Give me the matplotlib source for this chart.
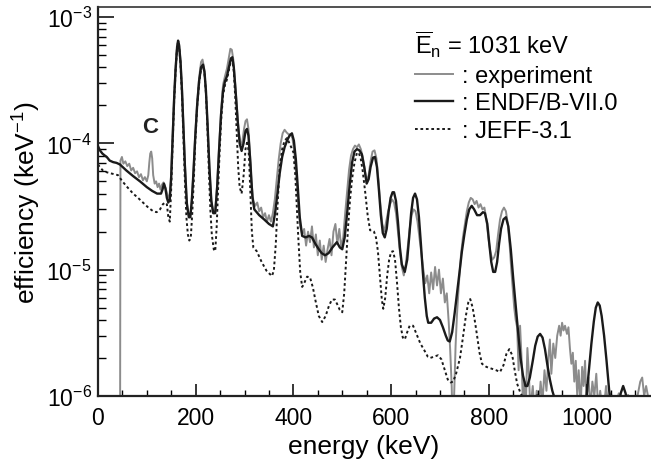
import matplotlib
matplotlib.use("Agg")
import matplotlib.pyplot as plt
from matplotlib.ticker import FixedLocator, MultipleLocator, LogLocator, NullFormatter

plt.rcParams['font.family'] = ['Liberation Sans', 'DejaVu Sans']
plt.rcParams['mathtext.fontset'] = 'custom'
plt.rcParams['mathtext.rm'] = 'Liberation Sans'
plt.rcParams['mathtext.it'] = 'Liberation Sans:italic'

# ---- data (energy in keV, efficiency in keV^-1) ----
exp_e = [45, 46, 49, 52, 56, 60, 64, 68, 72, 76, 80, 84, 88, 92, 96, 100, 103, 105, 107, 109,
         111, 113, 116, 119, 122, 125, 128, 131, 134, 137, 140, 143, 146,
         149, 152, 155, 158, 161, 164, 166, 169, 172, 175, 178, 181, 184, 187, 190,
         193, 196, 199, 203, 207, 211, 214, 217, 220, 223, 226, 229, 232, 236, 240,
         244, 248, 252, 256, 260, 264, 268, 271, 274, 277, 280, 284, 288, 292,
         295, 299, 302, 305, 308, 311, 314, 318, 322, 326, 330, 334, 338, 342, 346,
         350, 354, 358, 362, 366, 370, 374, 378, 382, 386, 390, 394, 398, 402, 406,
         410, 414, 418, 422, 426, 430, 434, 438, 442, 446, 450, 454, 458, 462, 466,
         470, 474, 478, 482, 486, 490, 494, 498, 502, 506, 510, 514, 518, 522, 526,
         530, 534, 538, 542, 546, 550, 554, 558, 562, 566, 570, 574, 578, 582, 586,
         590, 594, 598, 602, 606, 610, 614, 618, 622, 626, 630, 634, 638, 642, 646,
         650, 654, 658, 662, 666, 670, 674, 678, 682, 686, 690, 694, 698, 702, 706,
         710, 714, 718, 721, 724, 726, 729, 732, 735, 739, 743, 747, 751, 755, 759,
         763, 767, 771, 775, 779, 783, 787, 791, 795, 799, 803, 807, 811, 815, 819,
         823, 827, 831, 835, 839, 843, 846, 849, 852, 855, 858, 861, 864, 867, 870,
         873, 876, 879, 882, 885, 890, 894, 898, 902, 906, 910, 914, 918, 922, 925,
         928, 932, 936, 940, 944, 947, 950, 953, 956, 960, 963, 966, 969, 972, 975,
         978, 981, 984, 988, 991, 994, 997, 1000, 1004, 1008, 1012, 1016, 1020, 1024,
         1028, 1034, 1040, 1045, 1050, 1058, 1066, 1075, 1085, 1095, 1105, 1110, 1114,
         1118, 1122, 1128]
exp_v = [1e-7, 7.3e-5, 7.8e-5, 6.9e-5, 7.2e-5, 6.6e-5, 6.9e-5, 6.1e-5, 6.4e-5, 5.8e-5, 6.0e-5,
         5.4e-5, 5.7e-5, 5.1e-5, 5.4e-5, 5.0e-5, 5.6e-5, 7.0e-5, 8.3e-5, 8.6e-5,
         7.6e-5, 5.6e-5, 4.8e-5, 5.0e-5, 4.5e-5, 4.8e-5, 4.3e-5, 4.7e-5, 4.9e-5, 4.6e-5,
         4.2e-5, 3.8e-5, 3.7e-5,
         5.0e-5, 1.0e-4, 2.0e-4, 3.6e-4, 5.4e-4, 6.3e-4, 6.0e-4, 4.5e-4, 2.7e-4, 1.35e-4,
         7e-5, 3.8e-5, 2.9e-5, 2.6e-5, 2.8e-5,
         4.0e-5, 6.5e-5, 1.15e-4, 2.1e-4, 3.3e-4, 4.4e-4, 4.6e-4, 4.0e-4, 2.9e-4, 1.8e-4,
         1.0e-4, 5.5e-5, 3.5e-5, 2.8e-5, 2.9e-5,
         4.8e-5, 9.5e-5, 1.8e-4, 2.9e-4, 3.4e-4, 3.9e-4, 4.8e-4, 5.6e-4, 5.5e-4, 4.6e-4,
         3.3e-4, 2.0e-4, 1.25e-4, 9.8e-5,
         1.0e-4, 1.3e-4, 1.5e-4, 1.55e-4, 1.3e-4, 8.5e-5, 5e-5, 3.5e-5, 3.2e-5, 3.4e-5,
         2.9e-5, 3.1e-5, 2.6e-5, 2.8e-5, 2.4e-5,
         2.7e-5, 2.4e-5, 2.8e-5, 3.6e-5, 5.2e-5, 7.5e-5, 1.0e-4, 1.2e-4, 1.28e-4, 1.22e-4,
         1.18e-4, 1.18e-4, 1.1e-4, 8.5e-5, 5.5e-5,
         3.3e-5, 2.2e-5, 1.9e-5, 2.1e-5, 1.55e-5, 2.0e-5, 1.65e-5, 2.2e-5, 1.5e-5, 1.9e-5,
         1.3e-5, 1.7e-5, 1.2e-5, 1.55e-5, 1.15e-5,
         1.45e-5, 1.75e-5, 1.3e-5, 2.0e-5, 2.3e-5, 1.6e-5, 2.1e-5, 1.5e-5, 1.8e-5, 2.8e-5,
         4.2e-5, 6.2e-5, 8.0e-5, 9.0e-5, 9.6e-5,
         9.3e-5, 9.8e-5, 9.0e-5, 7.8e-5, 6.2e-5, 5.0e-5, 5.6e-5, 7.2e-5, 8.6e-5, 8.8e-5,
         7.6e-5, 5.2e-5, 3.3e-5, 2.3e-5, 2.0e-5,
         2.4e-5, 2.9e-5, 3.3e-5, 3.6e-5, 3.4e-5, 2.8e-5, 2.0e-5, 1.4e-5, 1.05e-5, 9e-6,
         1.1e-5, 1.5e-5, 2.1e-5, 2.7e-5, 3.0e-5,
         2.9e-5, 2.4e-5, 1.8e-5, 1.35e-5, 1.0e-5, 7.8e-6, 9e-6, 6.5e-6, 9.5e-6, 7e-6,
         1.05e-5, 7.5e-6, 1.0e-5, 6.5e-6, 8.5e-6,
         5.5e-6, 6.5e-6, 3.8e-6, 2.3e-6, 1.2e-6, 6e-7, 1.0e-6, 2.5e-6, 4.5e-6, 8e-6,
         1.3e-5, 1.8e-5, 2.3e-5, 2.9e-5, 3.4e-5,
         3.7e-5, 3.6e-5, 3.3e-5, 3.5e-5, 3.1e-5, 3.3e-5, 3.0e-5, 3.1e-5, 2.5e-5, 1.8e-5,
         1.4e-5, 1.2e-5, 1.25e-5, 1.4e-5, 1.9e-5,
         2.5e-5, 2.9e-5, 3.1e-5, 2.9e-5, 2.3e-5, 1.5e-5, 1.0e-5, 7e-6, 5e-6, 4.0e-6,
         3.5e-6, 1.6e-6, 3.6e-6, 2.0e-6, 8e-7,
         1.3e-6, 9e-7, 2.4e-6, 1.5e-6, 8e-7, 1.2e-6, 7e-7, 1.1e-6, 8e-7, 1.3e-6,
         9e-7, 1.6e-6, 1.1e-6, 2.0e-6, 2.8e-6,
         1.5e-6, 2.6e-6, 2.0e-6, 3.0e-6, 3.6e-6, 3.0e-6, 3.8e-6, 3.3e-6, 3.6e-6, 3.1e-6,
         3.5e-6, 2.4e-6, 1.8e-6, 2.2e-6, 1.3e-6,
         1.9e-6, 1.0e-6, 1.6e-6, 8e-7, 1.7e-6, 1.2e-6, 1.9e-6, 9e-7, 1.4e-6, 8e-7,
         1.3e-6, 1.0e-6, 1.5e-6, 8e-7,
         1.1e-6, 7e-7, 1.2e-6, 8e-7, 1.05e-6, 8e-7, 1.05e-6, 8e-7, 1.02e-6, 8e-7,
         1.03e-6, 1.3e-6, 1.4e-6,
         1.0e-6, 1.2e-6, 9e-7]

endf_e = [0, 4, 9, 14, 18, 24, 31, 38, 45, 58, 72, 86, 100, 111, 121, 129, 132, 135, 138,
          141, 144, 147,
          150, 153, 156, 159, 162, 164, 166, 169, 172, 175, 178, 182, 186, 189,
          192, 195, 199, 203, 207, 211, 215, 218, 221, 224, 228, 232, 236, 240,
          244, 248, 252, 256, 260, 264, 268, 272, 275, 278, 282, 286, 290, 294,
          298, 302, 305, 308, 312, 316, 320, 330, 340, 350, 358,
          363, 367, 372, 377, 382, 387, 392, 397, 401, 405, 409, 413, 418,
          425, 432, 438, 445, 452, 458, 465, 472, 480, 489, 495, 500,
          505, 510, 515, 520, 525, 530, 535, 540, 545, 550, 554, 558, 563, 567, 571,
          575, 579, 583, 587,
          591, 595, 599, 603, 606, 610, 614, 618, 622, 628,
          633, 637, 641, 645, 649, 653, 657, 661, 665, 669, 673, 676, 682, 688, 694,
          700, 706, 712, 716, 720,
          725, 730, 735, 740, 745, 750, 755, 760, 765, 770, 776, 782, 788, 792, 797,
          801, 805, 809, 813, 817, 821, 825, 830, 835, 840, 845, 850, 855, 860, 865,
          870, 875, 879,
          884, 890, 895, 900, 905, 910, 915, 920, 925, 930, 935, 945, 960, 980, 995,
          1000, 1005, 1010, 1015, 1019, 1023, 1027, 1031, 1036, 1041, 1046, 1050, 1058,
          1066, 1070, 1075, 1080, 1085, 1100, 1132]
endf_v = [9.5e-5, 8.8e-5, 8.3e-5, 8.0e-5, 7.8e-5, 7.3e-5, 7.1e-5, 7.0e-5, 6.8e-5, 6.1e-5,
          5.5e-5, 5.0e-5, 4.5e-5, 4.2e-5, 4.0e-5, 4.0e-5, 4.3e-5, 4.8e-5, 4.4e-5,
          3.7e-5, 3.4e-5, 3.6e-5,
          5.5e-5, 1.15e-4, 2.3e-4, 3.9e-4, 5.8e-4, 6.5e-4, 6.0e-4, 4.4e-4, 2.6e-4, 1.3e-4,
          6.5e-5, 3.3e-5, 2.6e-5, 2.6e-5,
          3.5e-5, 5.5e-5, 1.1e-4, 2.0e-4, 3.1e-4, 4.0e-4, 4.2e-4, 3.7e-4, 2.6e-4, 1.5e-4,
          6.5e-5, 3.5e-5, 2.8e-5, 2.8e-5,
          4.5e-5, 9e-5, 1.7e-4, 2.6e-4, 3.1e-4, 3.4e-4, 4.0e-4, 4.7e-4, 4.8e-4, 4.0e-4,
          2.5e-4, 1.5e-4, 1.0e-4, 8.7e-5,
          1.0e-4, 1.25e-4, 1.3e-4, 1.15e-4, 7e-5, 3.8e-5, 3.0e-5, 2.7e-5, 2.5e-5, 2.3e-5,
          2.2e-5,
          2.9e-5, 3.9e-5, 5.8e-5, 7.8e-5, 9.3e-5, 1.05e-4, 1.15e-4, 1.2e-4, 1.05e-4, 7.5e-5,
          4.5e-5, 2.6e-5, 1.85e-5,
          1.8e-5, 1.85e-5, 1.8e-5, 1.6e-5, 1.45e-5, 1.35e-5, 1.3e-5, 1.35e-5, 1.5e-5,
          1.65e-5, 1.5e-5, 1.45e-5,
          1.8e-5, 2.8e-5, 4.6e-5, 7e-5, 8.6e-5, 9e-5, 8.8e-5, 8.2e-5, 6.5e-5, 4.8e-5,
          5.2e-5, 6.5e-5, 7.7e-5, 7.8e-5, 6.5e-5,
          4.3e-5, 2.7e-5, 1.95e-5, 1.8e-5,
          2.1e-5, 2.9e-5, 3.7e-5, 4.1e-5, 4.1e-5, 3.5e-5, 2.4e-5, 1.5e-5, 1.1e-5, 9.6e-6,
          1.2e-5, 1.8e-5, 2.8e-5, 3.7e-5, 4.0e-5, 3.6e-5, 2.6e-5, 1.6e-5, 9.5e-6, 6e-6,
          4.3e-6, 3.8e-6, 3.8e-6, 4.1e-6, 4.2e-6,
          4.0e-6, 3.5e-6, 3.0e-6, 2.75e-6, 2.7e-6,
          3.2e-6, 4.5e-6, 6.5e-6, 9.5e-6, 1.4e-5, 1.9e-5, 2.5e-5, 3.0e-5, 3.2e-5, 3.0e-5,
          2.7e-5, 2.7e-5, 2.85e-5, 2.8e-5, 2.3e-5,
          1.6e-5, 1.15e-5, 9.6e-6, 9.6e-6, 1.15e-5, 1.6e-5, 2.1e-5, 2.5e-5, 2.6e-5, 2.2e-5,
          1.45e-5, 8.5e-6, 5.2e-6, 3.2e-6, 2.0e-6,
          1.45e-6, 1.2e-6, 1.2e-6,
          1.4e-6, 1.9e-6, 2.5e-6, 2.95e-6, 3.1e-6, 2.9e-6, 2.35e-6, 1.75e-6, 1.35e-6, 1.1e-6,
          9.5e-7, 7e-7, 5e-7, 5e-7, 7.5e-7,
          1.0e-6, 1.6e-6, 2.6e-6, 3.9e-6, 5.0e-6, 5.5e-6, 5.2e-6, 4.3e-6, 3.0e-6, 1.9e-6,
          1.15e-6, 8e-7, 6e-7,
          8e-7, 1.05e-6, 1.2e-6, 1.05e-6, 8e-7, 5e-7, 4e-7]

jeff_e = [0, 5, 10, 18, 25, 33, 41, 50, 60, 72, 82, 92, 103, 113, 120, 127, 133, 138, 141,
          144, 147,
          150, 153, 156, 159, 162, 164, 166, 169, 172, 175, 178, 181, 184, 187, 190,
          193, 196, 199, 203, 207, 211, 215, 218, 221, 224, 227, 230, 233, 237, 240,
          243, 246, 249, 252, 256, 260, 264, 268, 272, 275, 278, 281, 284, 287, 290, 294,
          298, 302, 306, 309, 312, 315, 318, 325, 335, 345, 356,
          360, 364, 368, 372, 377, 382, 387, 392, 396, 400, 404, 407, 410, 414,
          418, 422, 428, 434, 440, 446, 452, 459, 466, 473, 479, 485, 490, 495, 500,
          504, 508, 512, 516, 520, 525, 530, 534, 538, 542, 547, 552, 557, 561, 565,
          569, 573, 577, 581, 584, 588, 592, 596, 600, 604, 608, 612, 616, 620, 624,
          628, 633, 638, 645, 652, 660, 668, 675, 680, 688, 696, 703, 710, 716, 722,
          727, 733, 741, 747, 753, 758, 762, 767, 772, 776, 781, 786, 795, 805, 815,
          823, 830, 836, 842, 848, 853, 858, 865, 872, 878, 885, 892, 898, 904, 915,
          950, 1132]
jeff_v = [6.8e-5, 6.4e-5, 6.1e-5, 5.9e-5, 5.8e-5, 5.7e-5, 5.6e-5, 5.0e-5, 4.5e-5, 4.0e-5,
          3.7e-5, 3.4e-5, 3.1e-5, 2.9e-5, 2.85e-5, 3.0e-5, 3.3e-5, 3.4e-5, 3.3e-5,
          2.6e-5, 2.4e-5,
          4.5e-5, 1.05e-4, 2.2e-4, 3.8e-4, 5.7e-4, 6.4e-4, 5.9e-4, 4.2e-4, 2.4e-4, 1.1e-4,
          5e-5, 2.6e-5, 1.9e-5, 1.7e-5, 1.8e-5,
          2.8e-5, 5e-5, 1.0e-4, 1.95e-4, 3.0e-4, 3.9e-4, 4.1e-4, 3.6e-4, 2.5e-4, 1.35e-4,
          6e-5, 3e-5, 1.9e-5, 1.45e-5, 1.4e-5,
          2.2e-5, 4.5e-5, 8.5e-5, 1.5e-4, 2.4e-4, 2.9e-4, 3.2e-4, 3.8e-4, 4.5e-4, 4.6e-4,
          3.7e-4, 2.3e-4, 1.2e-4, 6.5e-5, 4.5e-5, 4.0e-5,
          5.5e-5, 9e-5, 1.05e-4, 8e-5, 4e-5, 2.0e-5, 1.5e-5, 1.4e-5, 1.15e-5, 9.8e-6, 8.9e-6,
          9.8e-6, 1.6e-5, 3.5e-5, 6.5e-5, 9e-5, 1.05e-4, 1.1e-4, 1.0e-4, 9.2e-5, 8.5e-5,
          5.5e-5, 3.2e-5, 1.8e-5, 9.5e-6,
          7.3e-6, 7.8e-6, 8.8e-6, 8.7e-6, 7.2e-6, 5.5e-6, 4.3e-6, 3.85e-6, 4.3e-6, 5.2e-6,
          5.8e-6, 5.8e-6, 5.3e-6, 4.8e-6, 4.6e-6,
          6.5e-6, 1.2e-5, 2.2e-5, 3.6e-5, 5.2e-5, 7.0e-5, 8.4e-5, 8.4e-5, 7.5e-5, 6.0e-5,
          4.1e-5, 2.7e-5, 2.05e-5, 2.05e-5, 2.0e-5,
          1.8e-5, 1.4e-5, 9e-6, 5.8e-6, 4.9e-6, 6.0e-6, 9e-6, 1.2e-5, 1.38e-5, 1.4e-5,
          1.2e-5, 8e-6, 5e-6, 3.5e-6, 2.9e-6,
          2.8e-6, 3.2e-6, 3.6e-6, 3.6e-6, 3.1e-6, 2.6e-6, 2.3e-6, 2.05e-6, 2.0e-6, 2.05e-6,
          2.1e-6, 1.95e-6, 1.6e-6, 1.35e-6, 1.28e-6,
          1.3e-6, 1.5e-6, 2.0e-6, 2.9e-6, 4.3e-6, 5.5e-6, 5.85e-6, 5.0e-6, 3.8e-6, 3.0e-6,
          2.2e-6, 1.8e-6, 1.7e-6, 1.65e-6, 1.6e-6,
          1.55e-6, 1.75e-6, 2.15e-6, 2.35e-6, 2.1e-6, 1.6e-6, 1.25e-6, 1.05e-6, 9.5e-7,
          9e-7, 8e-7, 9.5e-7, 1.03e-6, 9e-7, 6e-7,
          4e-7, 3e-7]

x_ticks = [0, 200, 400, 600, 800, 1000]
y_ticks = [1e-6, 1e-5, 1e-4, 1e-3]
y_ticklabels = [r'$\mathregular{10^{-6}}$', r'$\mathregular{10^{-5}}$',
                r'$\mathregular{10^{-4}}$', r'$\mathregular{10^{-3}}$']

fig = plt.figure(figsize=(6.51, 4.64), dpi=100)
ax = fig.add_axes([0.1505, 0.1444, 0.8495, 0.8384])

l_exp, = ax.plot(exp_e, exp_v, color='#8c8c8c', lw=1.4, zorder=1)
l_jeff, = ax.plot(jeff_e, jeff_v, color='#1a1a1a', lw=1.4, ls=(0, (1.4, 1.4)), zorder=2)
l_endf, = ax.plot(endf_e, endf_v, color='#1a1a1a', lw=1.7, zorder=3)

ax.set_yscale('log')
ax.set_xlim(0, 1132)
ax.set_ylim(1e-6, 1.2e-3)

ax.xaxis.set_major_locator(FixedLocator(x_ticks))
ax.xaxis.set_minor_locator(MultipleLocator(50))
ax.set_yticks(y_ticks)
ax.set_yticklabels(y_ticklabels)
ax.yaxis.set_minor_locator(LogLocator(base=10, subs=range(2, 10)))
ax.yaxis.set_minor_formatter(NullFormatter())

ax.tick_params(axis='x', which='major', direction='in', length=8.5, width=1.1,
               labelsize=16.5, pad=7, top=False)
ax.tick_params(axis='x', which='minor', direction='in', length=4.3, width=1.0, top=False)
ax.tick_params(axis='y', which='major', direction='in', length=11.5, width=1.1,
               labelsize=16.5, pad=4.5, right=False)
ax.tick_params(axis='y', which='minor', direction='in', length=5.8, width=1.0, right=False)

for side in ['left', 'bottom']:
    ax.spines[side].set_linewidth(1.6)
    ax.spines[side].set_color('#222222')
ax.spines['top'].set_linewidth(1.2)
ax.spines['top'].set_color('#333333')
ax.spines['right'].set_visible(False)

ax.set_xlabel('energy (keV)', fontsize=19)
ax.xaxis.set_label_coords(0.48, -0.097)
ax.set_ylabel(r'efficiency (keV$^{\mathregular{-1}}$)', fontsize=19)
ax.yaxis.set_label_coords(-0.1, 0.5)

ax.text(106, 1.37e-4, 'C', fontsize=16, fontweight='bold', ha='center', va='center',
        color='#222222')

leg = ax.legend([l_exp, l_endf, l_jeff],
                [': experiment', ': ENDF/B-VII.0', ': JEFF-3.1'],
                title=r'$\overline{\mathregular{E}}_{\mathregular{n}}$ = 1031 keV',
                loc='upper left', bbox_to_anchor=(0.573, 0.945), frameon=False,
                fontsize=17, title_fontsize=17, handlelength=1.6, handletextpad=0.4,
                labelspacing=0.24, borderpad=0, borderaxespad=0, alignment='left')

fig.savefig('out.png', dpi=100)
